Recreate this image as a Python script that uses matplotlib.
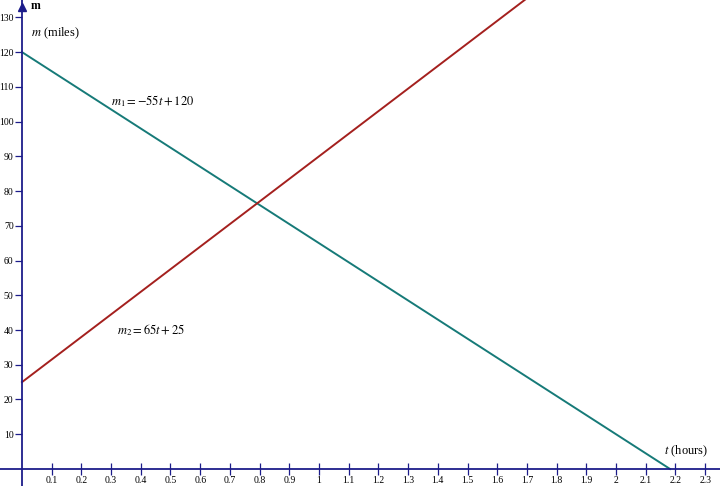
import numpy as np
import matplotlib.pyplot as plt

plt.rcParams['font.family'] = ['Liberation Serif', 'DejaVu Serif']
plt.rcParams['mathtext.fontset'] = 'stix'

# line data: m = slope * t + intercept
m1_slope, m1_int = -55, 120
m2_slope, m2_int = 65, 25
x_ticks = [0.1, 0.2, 0.3, 0.4, 0.5, 0.6, 0.7, 0.8, 0.9, 1.0, 1.1, 1.2,
           1.3, 1.4, 1.5, 1.6, 1.7, 1.8, 1.9, 2.0, 2.1, 2.2, 2.3]
x_labels = ['0.1', '0.2', '0.3', '0.4', '0.5', '0.6', '0.7', '0.8', '0.9', '1',
            '1.1', '1.2', '1.3', '1.4', '1.5', '1.6', '1.7', '1.8', '1.9', '2',
            '2.1', '2.2', '2.3']
y_ticks = [10, 20, 30, 40, 50, 60, 70, 80, 90, 100, 110, 120, 130]

axis_col = '#1c1c8a'
teal = '#167a78'
red = '#a4201e'

fig = plt.figure(figsize=(7.2, 4.86), dpi=100)
ax = fig.add_axes([0, 0, 1, 1])
ax.set_xlim(-0.074, 2.35)
ax.set_ylim(-4.9, 135.0)

# m1 runs until it reaches m = 0
t1 = np.array([0.0, -m1_int / m1_slope])
t2 = np.array([0.0, 2.0])
ax.plot(t1, m1_slope * t1 + m1_int, color=teal, lw=1.4, zorder=3)
ax.plot(t2, m2_slope * t2 + m2_int, color=red, lw=1.4, zorder=3)

for s in ['top', 'right']:
    ax.spines[s].set_visible(False)
ax.spines['left'].set_position(('data', 0))
ax.spines['bottom'].set_position(('data', 0))
for s in ['left', 'bottom']:
    ax.spines[s].set_color(axis_col)
    ax.spines[s].set_linewidth(1.3)
    ax.spines[s].set_zorder(4)

ax.set_xticks(x_ticks)
ax.set_xticklabels(x_labels)
ax.set_yticks(y_ticks)
ax.tick_params(axis='both', width=0.9, color=axis_col, labelsize=7)
ax.tick_params(axis='x', direction='inout', length=8, pad=1)
ax.tick_params(axis='y', direction='out', length=5, pad=1)

# arrow at the top of the m axis
ax.plot(0, 0.985, marker='^', color=axis_col, markersize=6,
        transform=ax.get_xaxis_transform(), clip_on=False, zorder=5)

ax.text(0.03, 133.3, 'm', fontsize=8.5, fontweight='bold', va='center')
ax.text(0.03, 125.3, r'$m$ (miles)', fontsize=9, va='center')
ax.text(2.16, 2.8, r'$t$ (hours)', fontsize=9, va='bottom')
ax.text(0.3, 106.0, r'$m_1 = -55t + 120$', fontsize=9, va='center')
ax.text(0.32, 40.0, r'$m_2 = 65t + 25$', fontsize=9, va='center')

fig.savefig('out.png', dpi=100)
